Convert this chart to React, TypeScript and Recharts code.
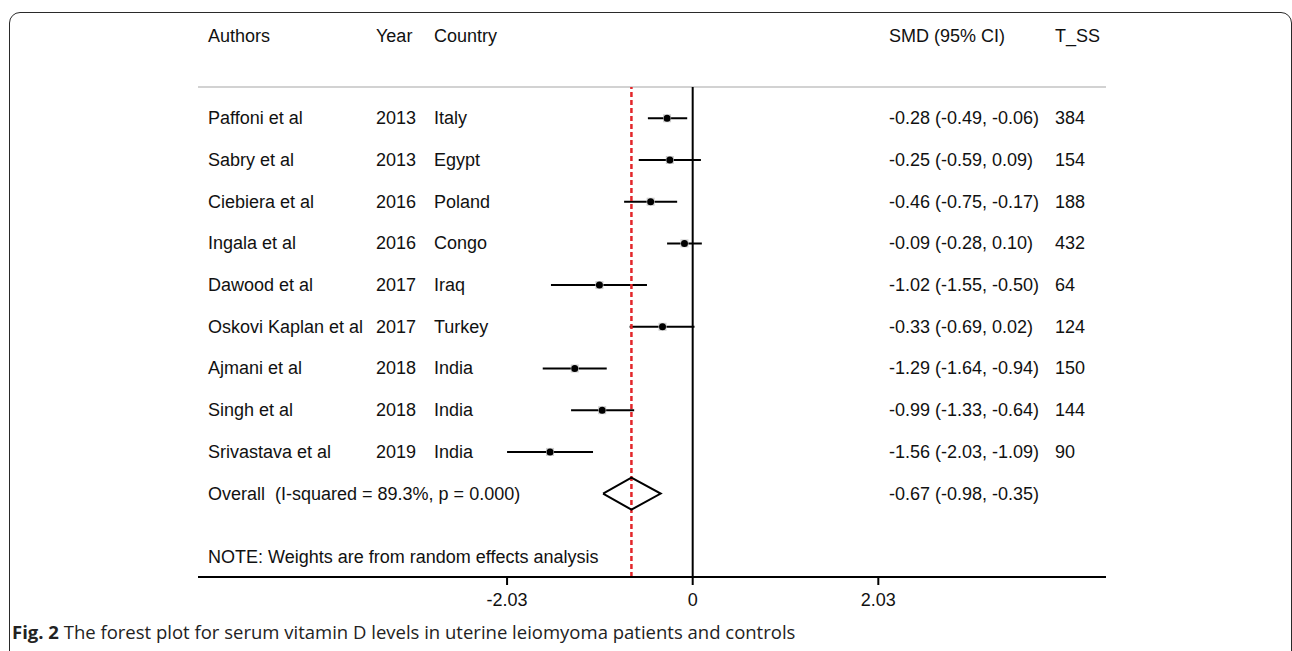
import { ComposedChart, ReferenceLine, Scatter, XAxis, YAxis } from "recharts";

const authors = [
  "Paffoni et al",
  "Sabry et al",
  "Ciebiera et al",
  "Ingala et al",
  "Dawood et al",
  "Oskovi Kaplan et al",
  "Ajmani et al",
  "Singh et al",
  "Srivastava et al",
];
const years = ["2013", "2013", "2016", "2016", "2017", "2017", "2018", "2018", "2019"];
const countries = ["Italy", "Egypt", "Poland", "Congo", "Iraq", "Turkey", "India", "India", "India"];
const smd = [-0.28, -0.25, -0.46, -0.09, -1.02, -0.33, -1.29, -0.99, -1.56];
const ciLow = [-0.49, -0.59, -0.75, -0.28, -1.55, -0.69, -1.64, -1.33, -2.03];
const ciHigh = [-0.06, 0.09, -0.17, 0.1, -0.5, 0.02, -0.94, -0.64, -1.09];
const totalN = ["384", "154", "188", "432", "64", "124", "150", "144", "90"];

const overallLabel = "Overall  (I-squared = 89.3%, p = 0.000)";
const overallSmd = -0.67;
const overallLow = -0.98;
const overallHigh = -0.35;
const noteText = "NOTE: Weights are from random effects analysis";

const headers = ["Authors", "Year", "Country", "SMD (95% CI)", "T_SS"];
const xTicks = [-2.03, 0, 2.03];

const FONT = "'Liberation Sans', Arial, Helvetica, sans-serif";
const FS = 18;
const COL_X = [208, 376, 434, 889, 1055];

const OVERALL_ROW = 9;
const NOTE_ROW = 10.53;

const fmt = (v: number) => v.toFixed(2);
const ciText = (e: number, lo: number, hi: number) => `${fmt(e)} (${fmt(lo)}, ${fmt(hi)})`;

const studies = smd.map((v, i) => ({ x: v, y: i }));
const diamond = [
  { x: overallLow, y: OVERALL_ROW },
  { x: overallSmd, y: OVERALL_ROW - 0.385 },
  { x: overallHigh, y: OVERALL_ROW },
  { x: overallSmd, y: OVERALL_ROW + 0.385 },
  { x: overallLow, y: OVERALL_ROW },
];

const rowTicks = [...smd.map((_, i) => i), OVERALL_ROW, NOTE_ROW];

function RowText(props: any) {
  const { y, payload } = props;
  const v = payload.value;
  const t = { fontFamily: FONT, fontSize: FS, fill: "#111", dominantBaseline: "central" as const };
  if (v === NOTE_ROW) {
    return <text x={COL_X[0]} y={y} {...t}>{noteText}</text>;
  }
  if (v === OVERALL_ROW) {
    return (
      <g>
        <text x={COL_X[0]} y={y} {...t} style={{ whiteSpace: "pre" }}>{overallLabel}</text>
        <text x={COL_X[3]} y={y} {...t}>{ciText(overallSmd, overallLow, overallHigh)}</text>
      </g>
    );
  }
  const i = v as number;
  return (
    <g>
      <text x={COL_X[0]} y={y} {...t}>{authors[i]}</text>
      <text x={COL_X[1]} y={y} {...t}>{years[i]}</text>
      <text x={COL_X[2]} y={y} {...t}>{countries[i]}</text>
      <text x={COL_X[3]} y={y} {...t}>{ciText(smd[i], ciLow[i], ciHigh[i])}</text>
      <text x={COL_X[4]} y={y} {...t}>{totalN[i]}</text>
    </g>
  );
}

function XTick(props: any) {
  const { x, payload } = props;
  return (
    <text x={x} y={600} textAnchor="middle" dominantBaseline="central" fontFamily={FONT} fontSize={FS} fill="#111">
      {payload.value === 0 ? "0" : fmt(payload.value)}
    </text>
  );
}

function StudyMarker(props: any) {
  const { cx, cy } = props;
  return (
    <g>
      <rect x={cx - 4} y={cy - 4} width={8} height={8} fill="#cfcfcf" />
      <circle cx={cx} cy={cy} r={3.5} fill="#000" />
    </g>
  );
}

export default function App() {
  return (
    <div style={{ position: "absolute", left: 0, top: 0, width: 1292, height: 651, overflow: "hidden", background: "#fff" }}>
      <div
        style={{
          position: "absolute",
          left: 9,
          top: 12,
          width: 1283,
          height: 720,
          border: "1.5px solid #2a2a2a",
          borderRadius: 11,
          boxSizing: "border-box",
        }}
      />
      {headers.map((h, i) => (
        <div
          key={h}
          style={{
            position: "absolute",
            left: COL_X[i],
            top: 26,
            lineHeight: "20px",
            fontFamily: FONT,
            fontSize: FS,
            color: "#111",
            whiteSpace: "pre",
          }}
        >
          {h}
        </div>
      ))}
      <div style={{ position: "absolute", left: 0, top: 0 }}>
        <ComposedChart width={1292} height={651} margin={{ top: 87, right: 186, bottom: 34, left: 0 }}>
          <XAxis
            type="number"
            dataKey="x"
            domain={[-5.41, 4.52]}
            allowDataOverflow
            ticks={xTicks}
            tick={<XTick />}
            tickSize={8}
            height={40}
            axisLine={{ stroke: "#000", strokeWidth: 2 }}
            tickLine={{ stroke: "#000", strokeWidth: 2 }}
          />
          <YAxis
            type="number"
            dataKey="y"
            reversed
            domain={[-0.75, 11]}
            allowDataOverflow
            ticks={rowTicks}
            interval={0}
            tick={<RowText />}
            tickLine={false}
            axisLine={false}
            width={198}
          />
          <ReferenceLine y={-0.75} stroke="#d2d2d2" strokeWidth={2} />
          <ReferenceLine x={0} stroke="#000" strokeWidth={2} />
          {smd.map((_, i) => (
            <ReferenceLine
              key={i}
              segment={[
                { x: ciLow[i], y: i },
                { x: ciHigh[i], y: i },
              ]}
              stroke="#000"
              strokeWidth={2}
            />
          ))}
          <Scatter data={studies} shape={<StudyMarker />} isAnimationActive={false} />
          <Scatter
            data={diamond}
            line={{ stroke: "#000", strokeWidth: 2 }}
            lineType="joint"
            shape={() => <g />}
            fill="none"
            isAnimationActive={false}
          />
          <ReferenceLine x={overallSmd} stroke="#e3262a" strokeWidth={2.5} strokeDasharray="5 3" />
        </ComposedChart>
      </div>
      <div
        style={{
          position: "absolute",
          left: 12,
          top: 620,
          lineHeight: "24px",
          fontFamily: "'Open Sans', sans-serif",
          fontSize: 18.5,
          color: "#222",
          whiteSpace: "pre",
        }}
      >
        <b>Fig. 2</b> The forest plot for serum vitamin D levels in uterine leiomyoma patients and controls
      </div>
    </div>
  );
}
